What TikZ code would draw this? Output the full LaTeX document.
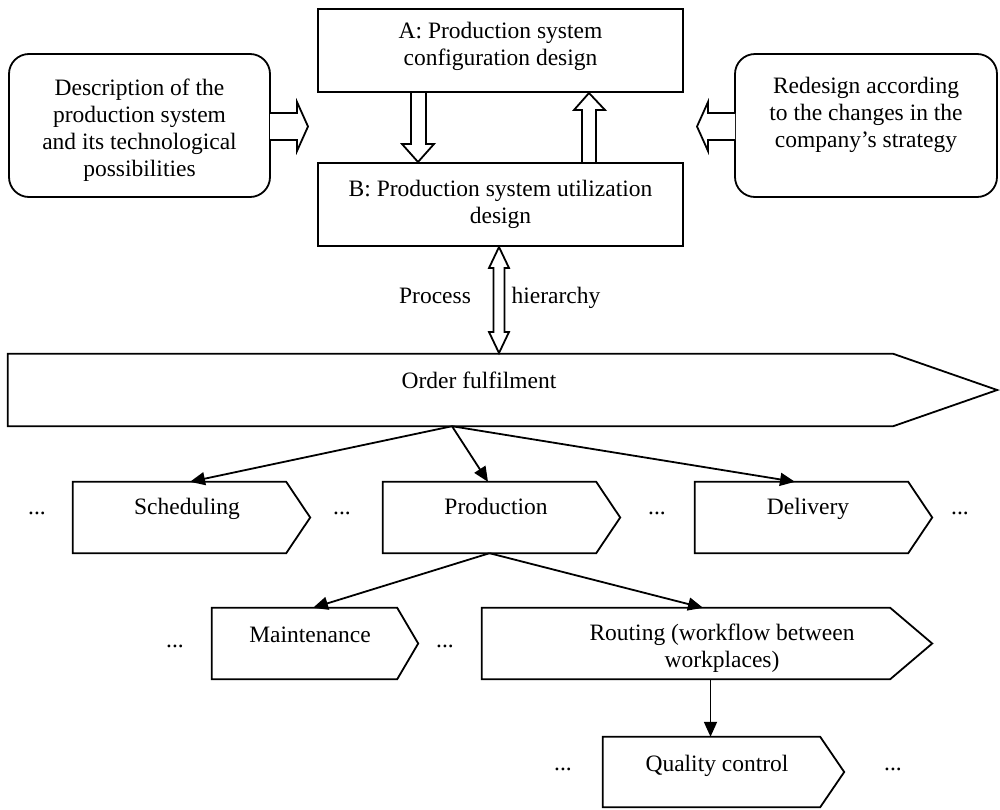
\documentclass[tikz,border=0pt]{standalone}
\usepackage{fontspec}
\setmainfont{Liberation Serif}
\usetikzlibrary{arrows.meta,calc}
% chevron-shaped process step: name, left, body right, tip length, top, bottom
\newcommand\procstep[6]{%
  \node[stepbody, minimum width={#3-#2}, minimum height={#6-#5}] (#1) at ({(#2+#3)/2},{(#5+#6)/2}) {};
  \draw[outline] (#1.north west) -- (#1.north east) -- ([xshift=#4]#1.east)
    -- (#1.south east) -- (#1.south west) -- cycle;}
\begin{document}
\begin{tikzpicture}[x=1pt,y=-1pt,
  every node/.style={font=\fontsize{23.5}{27}\selectfont, inner sep=0pt},
  outline/.style={line width=1.8pt, line join=miter},
  box/.style={draw, line width=1.8pt, rectangle, inner sep=0pt},
  roundbox/.style={box, rounded corners=20pt},
  stepbody/.style={rectangle, inner sep=0pt},
  txt/.style={align=center},
  lbl/.style={anchor=base},
  conn/.style={line width=1.8pt, -{Triangle[length=15pt,width=13pt]}},
  block/.style={draw, fill=white, line width=1.8pt, line join=miter}]
\useasboundingbox (0,0) rectangle (1000,809);

% design level
\node[box, minimum width=365, minimum height=83] (A) at (500.5,50.5) {};
\node[txt] (Atxt) at (500.5,46) {A: Production system\\configuration design};
\node[box, minimum width=365, minimum height=83] (B) at (500.5,204.5) {};
\node[txt] (Btxt) at (500.5,204) {B: Production system utilization\\design};

\node[roundbox, minimum width=261, minimum height=143] (L) at (139.5,125.5) {};
\node[txt] (Ltxt) at (139.5,130.5) {Description of the\\production system\\and its technological\\possibilities};
\node[roundbox, minimum width=262, minimum height=143] (R) at (866,125.5) {};
\node[txt] (Rtxt) at (866,115) {Redesign according\\to the changes in the\\company’s strategy};

% hollow block arrows
\draw[block] (411,92) -- (426,92) -- (426,144) -- (434,144) -- (418,162)
  -- (402,144) -- (411,144) -- cycle;
\draw[block] (582,163) -- (596,163) -- (596,110) -- (605,110) -- (589,93)
  -- (574,110) -- (582,110) -- cycle;
\draw[block] (270,113) -- (297,113) -- (297,102) -- (308,126.5) -- (297,151)
  -- (297,140) -- (270,140);
\draw[block] (735,113) -- (708,113) -- (708,102) -- (697,126.5) -- (708,151)
  -- (708,140) -- (735,140);
\draw[block] (499,247) -- (509,268) -- (504.5,268) -- (504.5,332) -- (509,332)
  -- (499,353) -- (489,332) -- (493.5,332) -- (493.5,268) -- (489,268) -- cycle;
\node[lbl] (proc) at (435,303) {Process};
\node[lbl] (hier) at (556,303) {hierarchy};

% process hierarchy
\procstep{order}{8}{893}{104}{354}{426}
\node[lbl] (ordertxt) at (479,388) {Order fulfilment};

\procstep{sched}{73}{286}{24}{482}{553}
\node[lbl] (schedtxt) at (187,514) {Scheduling};
\procstep{prod}{383}{596}{24}{482}{553}
\node[lbl] (prodtxt) at (496,514) {Production};
\procstep{deliv}{695}{908}{24}{482}{553}
\node[lbl] (delivtxt) at (808,514) {Delivery};
\node[lbl] (d1) at (37,514) {...};
\node[lbl] (d2) at (342,514) {...};
\node[lbl] (d3) at (657,514) {...};
\node[lbl] (d4) at (960,514) {...};

\procstep{maint}{212}{397}{21}{608}{679}
\node[lbl] (mainttxt) at (310,642) {Maintenance};
\procstep{rout}{482}{890}{42}{608}{679}
\node[txt] (routtxt) at (722,648) {Routing (workflow between\\workplaces)};
\node[lbl] (d5) at (175,647) {...};
\node[lbl] (d6) at (445,647) {...};

\procstep{qc}{603}{820}{24}{737}{807}
\node[lbl] (qctxt) at (717,771) {Quality control};
\node[lbl] (d7) at (563,770) {...};
\node[lbl] (d8) at (893,770) {...};

% connectors
\draw[conn] ([xshift=1.5]order.south) -- ([xshift=10.5]sched.north);
\draw[conn] ([xshift=1.5]order.south) -- ([xshift=-1.5]prod.north);
\draw[conn] ([xshift=1.5]order.south) -- ([xshift=-6.5]deliv.north);
\draw[conn] (prod.south) -- ([xshift=8.5]maint.north);
\draw[conn] (prod.south) -- ([xshift=17]rout.north);
\draw[conn] ([xshift=-1]qc.north |- rout.south) -- ([xshift=-1]qc.north);
\end{tikzpicture}
\end{document}
